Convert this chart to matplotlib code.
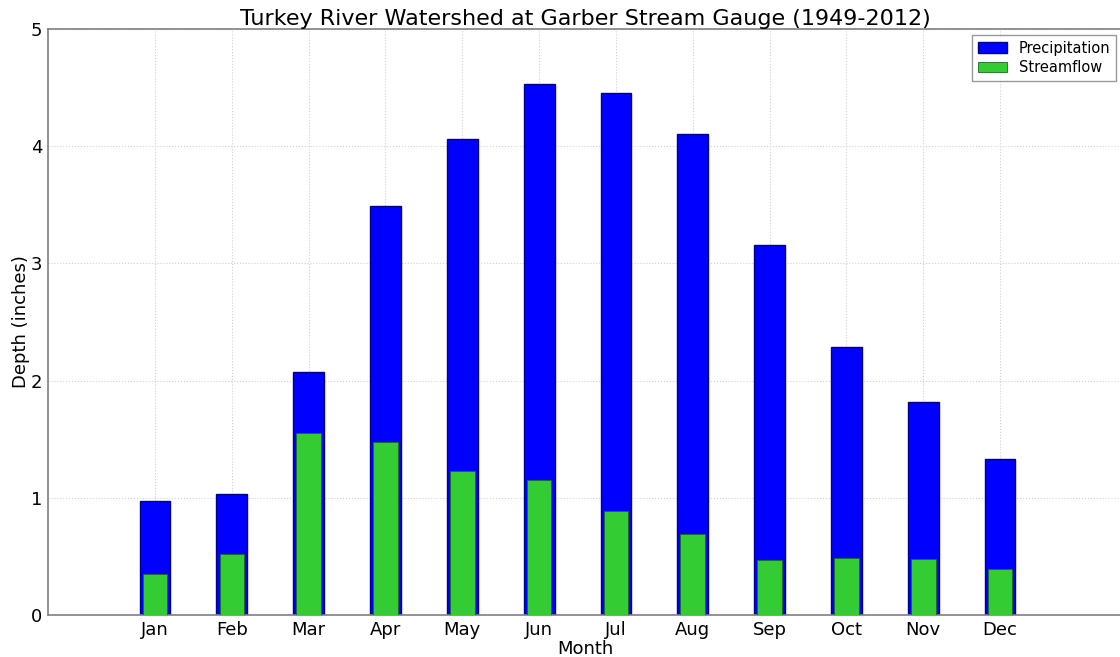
import matplotlib
matplotlib.use("Agg")
import matplotlib.pyplot as plt
import numpy as np

months = ["Jan", "Feb", "Mar", "Apr", "May", "Jun", "Jul", "Aug", "Sep", "Oct", "Nov", "Dec"]
precipitation = [0.97, 1.03, 2.07, 3.49, 4.06, 4.53, 4.45, 4.10, 3.16, 2.29, 1.82, 1.33]
streamflow = [0.35, 0.52, 1.55, 1.48, 1.23, 1.15, 0.89, 0.69, 0.47, 0.49, 0.48, 0.39]

fig = plt.figure(figsize=(11.2, 6.57), dpi=100)
ax = fig.add_axes([48/1120, 1 - 615/657, 1 - 48/1120 + 0.002, (615 - 29)/657])

x = np.arange(1, len(months) + 1)
ax.bar(x, precipitation, width=0.4, color="#0000ff", edgecolor="#00008b",
       linewidth=1.0, label="Precipitation", zorder=2)
ax.bar(x, streamflow, width=0.32, color="#33cc33", edgecolor="#1a6b1a",
       linewidth=0.6, label="Streamflow", zorder=3)

ax.set_xlim(-0.393, 13.59)
ax.set_ylim(0, 5)
ax.set_xticks(x)
ax.set_xticklabels(months, fontsize=13)
ax.set_yticks([0, 1, 2, 3, 4, 5])
ax.tick_params(axis="y", labelsize=13, length=0, pad=4)
ax.tick_params(axis="x", length=0, pad=4)
ax.grid(True, linestyle=":", color="#d0d0d0", linewidth=0.8, zorder=0)
ax.set_axisbelow(True)
for s in ax.spines.values():
    s.set_color("#808080")
    s.set_linewidth(1.2)

ax.set_xlabel("Month", fontsize=13, labelpad=1)
ax.set_ylabel("Depth (inches)", fontsize=13, labelpad=1)
ax.set_title("Turkey River Watershed at Garber Stream Gauge (1949-2012)", fontsize=16, pad=3)

leg = ax.legend(loc="upper right", fontsize=10.5, fancybox=False, frameon=True,
                handlelength=2.0, borderaxespad=0.4, borderpad=0.4,
                labelspacing=0.3)
leg.get_frame().set_edgecolor("#808080")
leg.get_frame().set_linewidth(1.0)

fig.savefig("out.png", dpi=100)
